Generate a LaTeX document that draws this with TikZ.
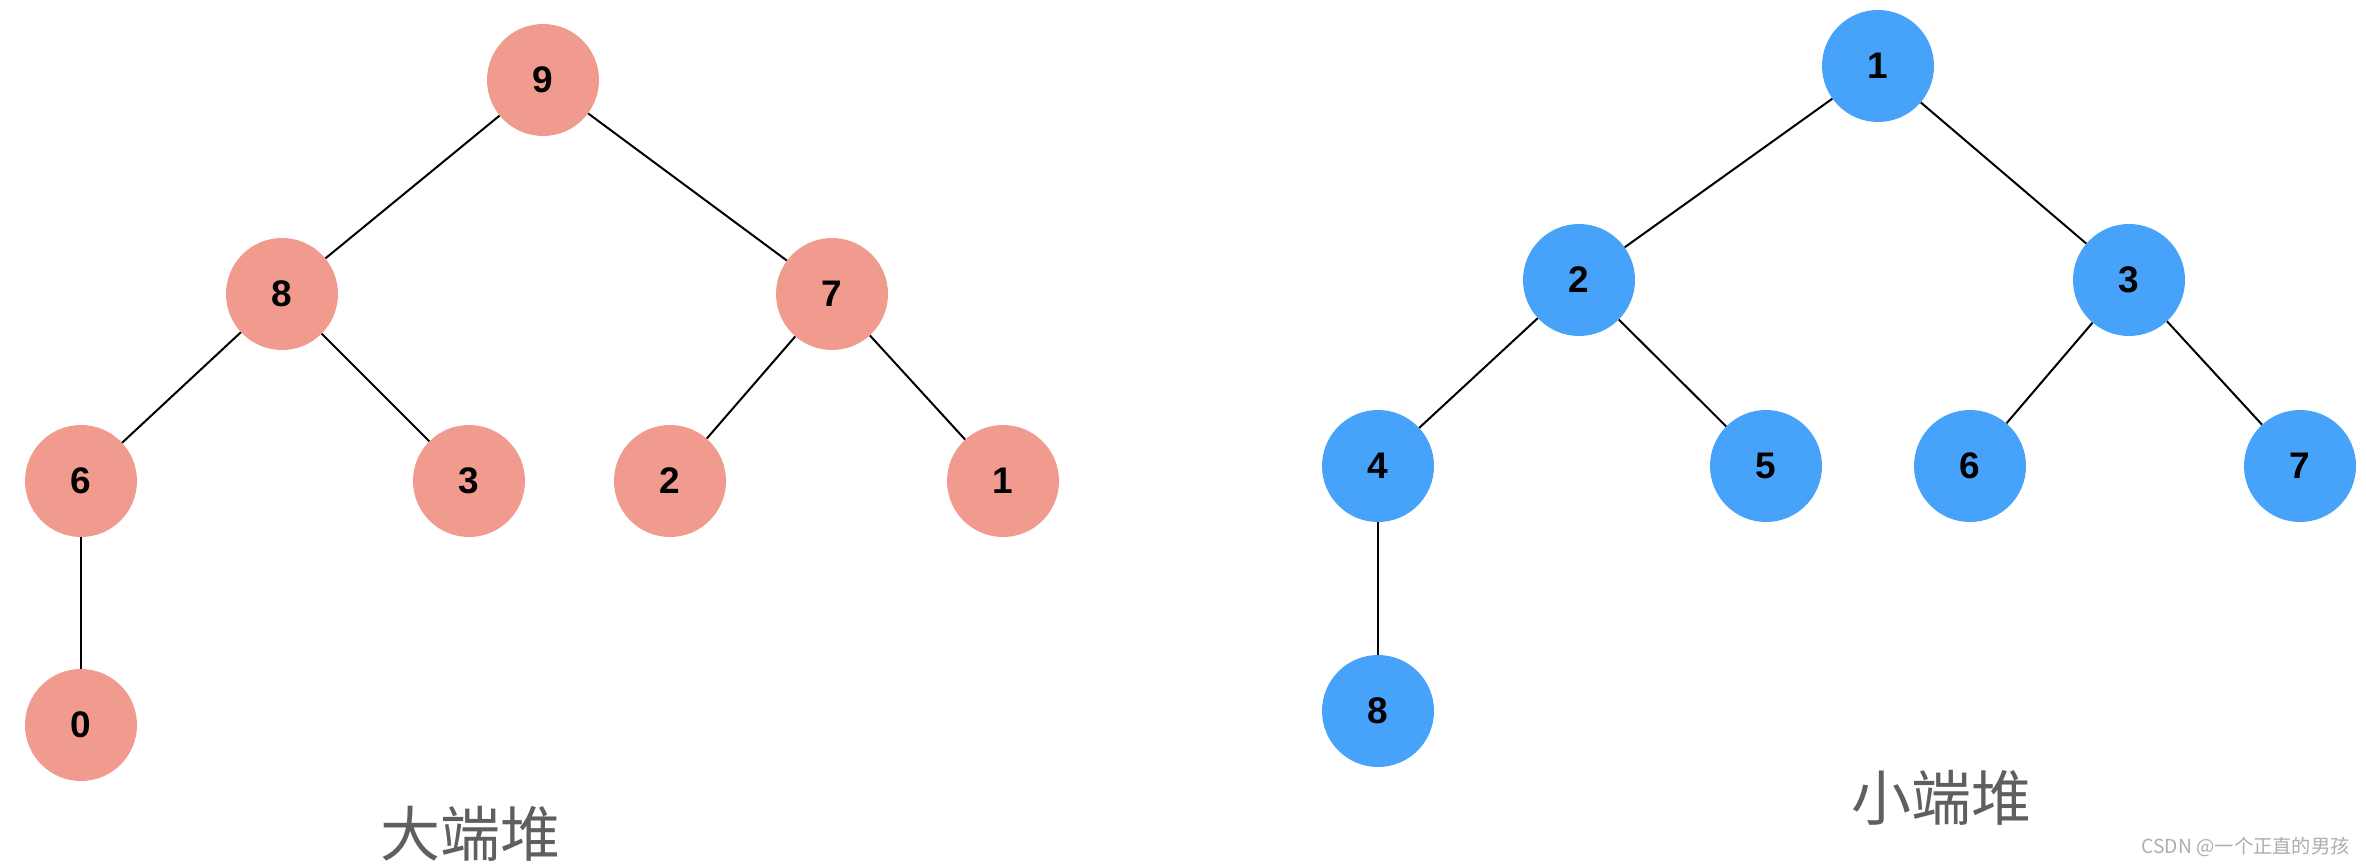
\documentclass[tikz,border=0pt]{standalone}
\usepackage{fontspec}
\setmainfont{Liberation Sans}
\newfontfamily\cjk{Noto Sans CJK SC}
\definecolor{pinkfill}{HTML}{F19B8F}
\definecolor{bluefill}{HTML}{47A3FA}
\definecolor{labelgray}{HTML}{5F5F5F}
\definecolor{markgray}{HTML}{ADADAD}
\tikzset{
  heapnode/.style={circle, minimum size=112pt, inner sep=0pt, font=\fontsize{37}{40}\selectfont\bfseries, text=black},
  bignode/.style={heapnode, fill=pinkfill},
  smallnode/.style={heapnode, fill=bluefill},
  edge/.style={draw=black, line width=2pt},
  heaplabel/.style={font=\cjk\fontsize{60}{64}\selectfont, text=labelgray, inner sep=0pt},
  watermarktext/.style={anchor=east, inner sep=0pt, text=markgray, font=\cjk\fontsize{19.3}{21}\selectfont},
}
\begin{document}
\begin{tikzpicture}[x=1pt,y=-1pt]
\useasboundingbox (0,0) rectangle (2366,866);
% left heap
\node[bignode] (L9) at (543,80) {9};
\node[bignode] (L8) at (282,294) {8};
\node[bignode] (L7) at (832,294) {7};
\node[bignode] (L6) at (81,481) {6};
\node[bignode] (L3) at (469,481) {3};
\node[bignode] (L2) at (670,481) {2};
\node[bignode] (L1) at (1003,481) {1};
\node[bignode] (L0) at (81,725) {0};
% right heap
\node[smallnode] (R1) at (1878,66) {1};
\node[smallnode] (R2) at (1579,280) {2};
\node[smallnode] (R3) at (2129,280) {3};
\node[smallnode] (R4) at (1378,466) {4};
\node[smallnode] (R5) at (1766,466) {5};
\node[smallnode] (R6) at (1970,466) {6};
\node[smallnode] (R7) at (2300,466) {7};
\node[smallnode] (R8) at (1378,711) {8};
% edges
\draw[edge] (L9) -- (L8);
\draw[edge] (L9) -- (L7);
\draw[edge] (L8) -- (L6);
\draw[edge] (L8) -- (L3);
\draw[edge] (L7) -- (L2);
\draw[edge] (L7) -- (L1);
\draw[edge] (L6) -- (L0);
\draw[edge] (R1) -- (R2);
\draw[edge] (R1) -- (R3);
\draw[edge] (R2) -- (R4);
\draw[edge] (R2) -- (R5);
\draw[edge] (R3) -- (R6);
\draw[edge] (R3) -- (R7);
\draw[edge] (R4) -- (R8);
% labels
\node[heaplabel] (bigname) at (470,834) {大端堆};
\node[heaplabel] (smallname) at (1941,798) {小端堆};
\node[watermarktext] (watermark) at (2350,847) {CSDN @一个正直的男孩};
\end{tikzpicture}
\end{document}
